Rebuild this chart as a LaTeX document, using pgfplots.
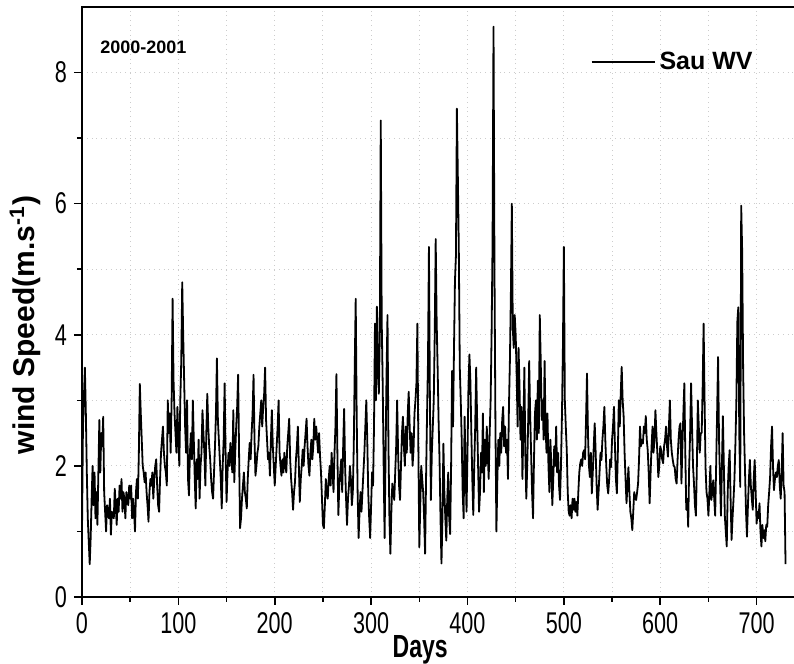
\documentclass[border=0pt]{standalone}
\usepackage{pgfplots}
\pgfplotsset{compat=1.18}
\usepackage{pgfplotstable}
\usepackage{fontspec}
\setmainfont{Liberation Sans}
\newfontfamily\narrowfont{Liberation Sans}[FakeStretch=0.72]

\pgfplotstableread{
d v
0 1.0
1 2.6
3 3.5
4 2.8
5 1.9
6 1.2
8 0.5
9 0.9
10 1.5
11 2.0
12 1.4
13 1.9
14 1.2
15 1.6
16 1.1
18 2.7
19 1.9
20 2.5
21 2.3
22 2.75
23 1.6
24 1.3
25 1.0
26 1.4
28 1.2
29 1.5
30 0.95
31 1.3
33 1.2
34 1.65
35 1.4
36 1.1
37 1.5
38 1.3
39 1.7
40 1.5
41 1.8
42 1.3
43 1.6
44 1.5
45 1.2
46 1.6
47 1.5
48 1.4
49 1.7
50 1.5
51 1.7
52 1.2
53 1.5
54 1.3
55 1.0
56 1.6
57 1.8
58 1.5
59 2.2
60 3.25
61 2.8
62 2.4
63 2.0
64 1.9
65 1.75
66 1.9
67 1.6
68 1.4
69 1.15
70 1.6
71 1.8
72 1.7
73 1.9
74 1.5
75 1.8
76 2.0
77 2.1
78 1.7
79 1.4
80 1.3
81 1.8
82 2.2
83 2.4
84 2.6
85 2.2
86 2.0
87 1.9
88 1.7
89 3.0
90 2.5
91 2.8
92 2.2
93 3.0
94 4.55
95 3.3
96 2.8
97 2.5
98 2.2
99 2.9
100 2.4
101 2.0
102 3.0
103 3.6
104 4.8
105 4.0
106 3.3
107 2.6
108 2.2
109 3.0
110 1.8
111 1.55
112 2.2
113 2.5
114 2.1
115 3.0
116 2.4
117 1.8
118 1.35
119 2.1
120 1.8
121 2.4
122 1.5
123 2.0
124 2.2
125 2.85
126 2.5
127 2.2
128 1.7
129 2.5
130 3.1
131 2.6
132 2.3
133 2.1
134 1.8
135 1.6
136 1.5
137 1.9
138 2.3
139 2.8
140 3.64
141 2.7
142 2.4
143 2.1
144 1.8
145 1.35
146 2.0
147 2.4
148 3.26
149 2.2
150 1.45
151 1.9
152 2.2
153 2.0
154 2.35
155 2.1
156 1.9
157 2.85
158 1.75
159 2.2
160 2.6
161 2.9
162 3.39
163 2.2
164 1.05
165 1.2
166 1.5
167 1.7
168 1.9
169 1.6
170 1.5
171 1.35
172 1.8
173 2.1
174 2.35
175 2.1
176 2.5
177 2.8
178 3.39
179 2.4
180 1.85
181 2.0
182 2.2
183 2.3
184 2.6
185 2.8
186 3.0
187 2.6
188 2.9
189 3.1
190 3.5
191 2.7
192 2.4
193 2.1
194 2.2
195 1.85
196 2.4
197 2.85
198 2.3
199 2.0
200 1.7
201 2.0
202 2.3
203 2.6
204 3.0
205 2.2
206 2.0
207 1.85
208 2.1
209 1.9
210 2.2
211 2.0
212 1.9
213 2.3
214 2.5
215 2.72
216 2.1
217 1.8
218 1.6
219 1.33
220 1.6
221 1.75
222 2.1
223 2.3
224 2.6
225 2.0
226 1.45
227 1.8
228 2.0
229 2.25
230 2.0
231 2.3
232 2.5
233 2.72
234 2.3
235 2.0
236 1.85
237 2.2
238 2.4
239 2.1
240 2.3
241 2.72
242 2.4
243 2.6
244 2.4
245 2.2
246 2.5
247 2.15
248 1.9
249 1.5
250 1.1
251 1.05
252 1.4
253 1.8
254 1.6
255 1.5
256 1.8
257 2.0
258 1.7
259 2.2
260 1.9
261 1.6
262 2.2
263 2.6
264 3.4
265 2.2
266 1.25
267 1.7
268 1.9
269 2.1
270 1.6
271 2.3
272 2.87
273 2.0
274 1.5
275 1.1
276 1.5
277 1.7
278 2.0
279 1.8
280 1.4
281 1.6
282 2.3
283 3.5
284 4.55
285 2.8
286 1.6
287 0.9
288 1.3
289 1.6
290 1.3
291 1.6
292 1.9
293 2.2
294 2.6
295 3.0
296 2.4
297 1.6
298 1.2
299 0.9
300 1.4
301 1.9
302 1.7
303 2.6
304 4.17
305 3.0
306 4.43
307 3.6
308 3.1
309 4.0
310 7.27
311 4.2
312 3.26
313 2.0
314 0.9
315 2.2
316 3.4
317 4.3
318 2.3
319 1.2
320 0.66
321 1.3
322 1.73
323 1.6
324 1.48
325 1.9
326 2.3
327 3.0
328 2.2
329 1.7
330 1.48
331 2.0
332 2.5
333 2.75
334 2.3
335 2.0
336 2.6
337 2.2
338 2.8
339 3.13
340 2.6
341 2.2
342 2.5
343 2.0
344 2.24
345 2.8
346 3.0
347 3.26
348 4.17
349 2.3
350 0.76
351 1.4
352 2.0
353 1.8
354 1.6
355 1.2
356 0.66
357 1.8
358 2.75
359 3.6
360 5.34
361 3.0
362 1.48
363 2.2
364 2.6
365 3.0
366 4.0
367 5.46
368 4.2
369 3.51
370 2.7
371 2.09
372 1.2
373 0.51
374 1.2
375 2.34
376 1.6
377 1.2
378 0.86
379 1.5
380 1.9
381 1.2
382 0.96
383 2.0
384 3.45
385 2.6
386 3.8
387 4.83
388 5.2
389 7.45
390 6.4
391 5.3
392 3.5
393 3.0
394 2.4
395 1.6
396 1.2
397 2.75
398 2.0
399 1.3
400 2.2
401 3.2
402 3.7
403 3.3
404 2.5
405 1.8
406 1.25
407 2.0
408 2.6
409 3.5
410 2.7
411 2.0
412 1.3
413 1.6
414 2.2
415 1.9
416 2.8
417 1.6
418 2.4
419 2.0
420 2.6
421 2.2
422 1.8
423 2.5
424 3.0
425 4.0
426 5.4
427 8.7
428 5.0
429 2.6
430 1.0
431 1.8
432 2.4
433 2.0
434 2.5
435 2.2
436 2.7
437 2.9
438 2.3
439 2.6
440 2.2
441 2.4
442 1.8
443 2.9
444 3.6
445 4.6
446 6.0
447 4.1
448 3.8
449 4.3
450 4.0
451 3.4
452 2.6
453 3.8
454 3.2
455 2.4
456 2.9
457 1.8
458 2.6
459 3.5
460 2.2
461 1.5
462 2.0
463 2.7
464 3.6
465 2.8
466 2.2
467 1.6
468 1.2
469 2.1
470 2.8
471 3.0
472 2.4
473 3.3
474 2.5
475 4.3
476 3.6
477 2.7
478 3.0
479 2.4
480 3.6
481 2.6
482 2.2
483 2.8
484 2.0
485 1.6
486 2.4
487 2.0
488 1.4
489 1.8
490 2.3
491 2.0
492 2.6
493 1.9
494 2.2
495 1.7
496 1.48
497 2.0
498 2.76
499 3.8
500 5.34
501 3.0
502 2.6
503 2.24
504 1.6
505 1.3
506 1.24
507 1.4
508 1.2
509 1.5
510 1.33
511 1.5
512 1.3
513 1.45
514 1.24
515 1.6
516 1.9
517 2.04
518 2.1
519 2.0
520 2.2
521 2.24
522 2.1
523 2.7
524 3.41
525 2.5
526 2.0
527 1.83
528 2.2
529 1.58
530 1.9
531 2.3
532 2.65
533 2.2
534 1.7
535 1.33
536 1.6
537 1.9
538 2.2
539 2.09
540 2.4
541 2.6
542 2.9
543 2.4
544 2.0
545 1.7
546 1.58
547 1.8
548 2.1
549 1.98
550 2.4
551 2.6
552 2.9
553 2.3
554 1.8
555 1.58
556 2.2
557 3.0
558 2.6
559 3.1
560 3.51
561 3.0
562 2.76
563 2.2
564 1.8
565 1.43
566 1.7
567 1.98
568 1.6
569 1.3
570 1.2
571 1.02
572 1.3
573 1.6
574 1.5
575 1.48
576 1.6
577 1.73
578 2.1
579 2.6
580 2.3
581 2.4
582 2.34
583 2.6
584 2.5
585 2.76
586 2.4
587 2.24
588 1.9
589 1.43
590 1.9
591 2.3
592 2.6
593 2.2
594 2.4
595 2.85
596 2.5
597 2.2
598 1.83
599 2.0
600 2.3
601 2.24
602 2.1
603 2.04
604 2.3
605 2.4
606 2.6
607 2.3
608 2.14
609 2.6
610 3.0
611 2.4
612 2.2
613 2.09
614 2.0
615 1.98
616 1.8
617 1.73
618 2.1
619 2.4
620 2.6
621 2.65
622 1.73
623 2.3
624 2.8
625 3.26
626 2.2
627 1.33
628 1.5
629 1.07
630 1.98
631 2.5
632 3.26
633 2.6
634 2.0
635 1.73
636 1.4
637 1.24
638 2.0
639 3.0
640 2.6
641 2.2
642 2.5
643 2.5
644 3.2
645 4.17
646 3.0
647 1.98
648 1.6
649 1.5
650 1.24
651 1.6
652 2.0
653 1.48
654 1.6
655 1.78
656 1.5
657 1.24
658 2.0
659 2.8
660 3.66
661 2.4
662 1.8
663 1.24
664 2.0
665 2.76
666 2.0
667 1.24
668 1.0
669 0.77
670 1.6
671 2.0
672 2.24
673 1.5
674 0.87
675 1.2
676 1.48
677 1.8
678 2.34
679 3.0
680 4.2
681 4.42
682 2.5
683 1.68
684 5.97
685 5.28
686 3.5
687 2.5
688 1.9
689 1.3
690 0.92
691 1.4
692 1.8
693 2.09
694 1.7
695 1.5
696 1.33
697 1.8
698 2.09
699 1.6
700 1.12
701 1.3
702 1.2
703 1.43
704 1.0
705 0.77
706 1.1
707 0.9
708 1.02
709 0.85
710 1.1
711 1.07
712 1.4
713 1.6
714 1.83
715 2.3
716 2.6
717 2.0
718 1.63
719 1.8
720 1.9
721 1.83
722 2.0
723 2.09
724 1.7
725 1.5
726 1.9
727 2.5
728 1.7
729 1.6
730 0.5
}\sau

\begin{document}
\begin{tikzpicture}
\begin{axis}[
  scale only axis,
  width=359pt, height=295pt,
  xmin=0, xmax=745, ymin=0, ymax=9,
  xtick={0,100,...,700},
  minor xtick={50,150,...,650},
  ytick={0,2,4,6,8},
  minor ytick={1,3,5,7},
  xtick pos=bottom, ytick pos=left,
  tick align=outside,
  major tick length=4pt, minor tick length=2.5pt,
  every tick/.style={black, line width=0.8pt},
  axis line style={line width=1pt},
  grid=both,
  major grid style={gray!40, dotted, line width=0.5pt},
  minor grid style={gray!40, dotted, line width=0.5pt},
  /pgf/number format/assume math mode=true,
  ticklabel style={font=\narrowfont\fontsize{15}{15}\selectfont},
  xlabel={Days},
  ylabel={wind Speed(m.s\textsuperscript{-1})},
  xlabel style={font=\narrowfont\bfseries\fontsize{16}{16}\selectfont, at={(axis description cs:0.471,-0.09)}, anchor=center},
  ylabel style={font=\bfseries\fontsize{15}{15}\selectfont, at={(axis description cs:-0.079,0.461)}, anchor=center},
  legend style={draw=none, fill=none, font=\bfseries\fontsize{12.5}{12.5}\selectfont,
    at={(axis description cs:0.708,0.907)}, anchor=west, inner sep=0pt},
  legend image code/.code={\draw[#1] (0pt,0pt) -- (31.5pt,0pt);},
]
\addplot[black, line width=0.9pt, line join=round] table[x=d, y=v] {\sau};
\addlegendentry{Sau WV}
\node[anchor=west, inner sep=0pt, font=\bfseries\fontsize{9}{9}\selectfont] at (axis description cs:0.025,0.932) {2000-2001};
\coordinate (O) at (rel axis cs:0,0);
\end{axis}
\pgfresetboundingbox
\path (O) ++(-41pt,-33.5pt) rectangle ++(397pt,332pt);
\end{tikzpicture}
\end{document}
